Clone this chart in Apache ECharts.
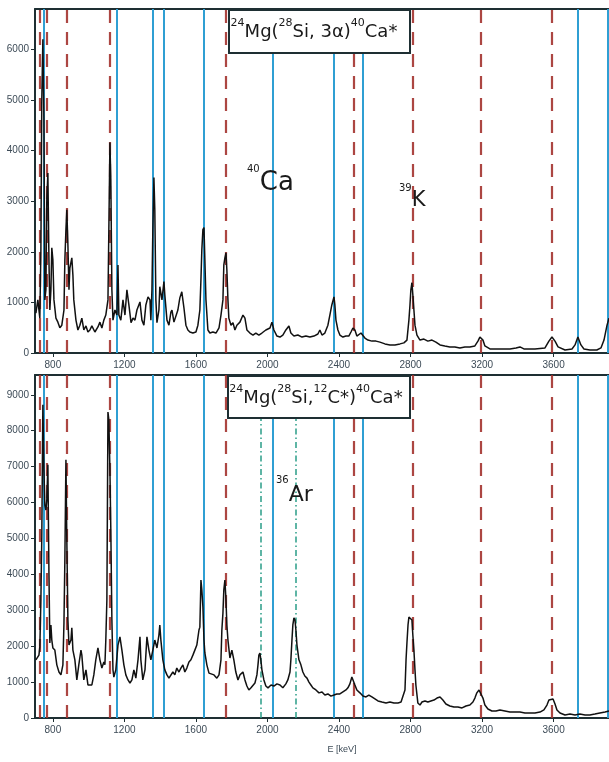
<!DOCTYPE html>
<html><head><meta charset="utf-8">
<script src="https://cdn.jsdelivr.net/npm/echarts@6/dist/echarts.min.js"></script>
<style>html,body{margin:0;padding:0;background:#fff;overflow:hidden}#c{width:609px;height:762px}</style>
</head><body><div id="c"></div>
<script>
// ---------- data ----------
const xTicks = [800, 1200, 1600, 2000, 2400, 2800, 3200, 3600];
const topYTicks = [0, 1000, 2000, 3000, 4000, 5000, 6000];
const botYTicks = [0, 1000, 2000, 3000, 4000, 5000, 6000, 7000, 8000, 9000];
const redLines = [727, 766, 878, 1119, 1768, 2483, 2813, 3194, 3591];
const blueLines = [748, 1158, 1359, 1421, 1645, 2030, 2372, 2534, 3737, 3904];
const greenLines = [1963, 2159];
const xAxisTitle = 'E [keV]';

const topSpectrum = [[705,790],[716,1050],[727,690],[733,2040],[738,5010],[744,6200],[750,4610],[755,1050],[761,1250],[766,3030],[772,3560],[778,1840],[783,850],[789,1250],[794,2080],[800,1840],[806,1050],[817,690],[828,610],[839,500],[850,550],[862,850],[867,1840],[873,2440],[878,2830],[884,2140],[890,1250],[895,1680],[906,1880],[912,1540],[917,1050],[929,650],[940,455],[951,550],[962,690],[973,455],[985,535],[996,415],[1007,455],[1018,535],[1035,415],[1052,515],[1063,610],[1074,495],[1085,650],[1096,750],[1108,1050],[1113,2440],[1119,4160],[1124,3430],[1130,1250],[1136,650],[1147,850],[1158,750],[1164,1740],[1169,750],[1180,650],[1192,1050],[1203,750],[1214,1250],[1225,950],[1237,600],[1248,690],[1259,650],[1270,850],[1287,1010],[1298,650],[1309,550],[1320,950],[1332,1110],[1343,1050],[1348,650],[1354,1250],[1359,2440],[1365,3470],[1370,2830],[1376,1050],[1382,600],[1393,850],[1398,1310],[1410,1050],[1421,1410],[1426,1150],[1438,650],[1449,550],[1460,810],[1466,850],[1477,610],[1488,575],[1499,850],[1510,1090],[1521,1210],[1533,890],[1544,550],[1555,455],[1566,415],[1583,395],[1600,415],[1611,550],[1622,850],[1628,1450],[1633,2040],[1639,2440],[1645,2480],[1650,1840],[1656,1050],[1667,455],[1678,395],[1695,415],[1712,395],[1729,495],[1740,750],[1751,1050],[1756,1740],[1762,1880],[1768,1980],[1773,1640],[1779,1050],[1784,690],[1796,550],[1807,600],[1818,455],[1829,550],[1846,610],[1863,750],[1874,690],[1885,455],[1902,395],[1919,355],[1935,395],[1952,355],[1969,395],[1991,455],[2014,495],[2025,610],[2036,455],[2053,335],[2070,315],[2086,355],[2103,455],[2120,535],[2131,395],[2148,335],[2170,355],[2193,315],[2215,335],[2237,315],[2260,335],[2282,375],[2293,455],[2305,355],[2321,395],[2338,550],[2349,750],[2360,950],[2372,1110],[2377,950],[2383,650],[2394,455],[2405,355],[2422,315],[2439,335],[2455,335],[2467,415],[2478,495],[2489,455],[2500,335],[2511,335],[2523,395],[2534,415],[2545,295],[2562,255],[2584,235],[2607,235],[2629,215],[2657,180],[2685,160],[2713,160],[2741,180],[2763,200],[2780,255],[2791,650],[2797,950],[2802,1250],[2808,1390],[2813,1150],[2819,850],[2825,550],[2836,355],[2853,255],[2875,275],[2897,235],[2920,255],[2942,215],[2965,160],[2992,140],[3020,120],[3048,120],[3076,100],[3104,120],[3132,120],[3160,140],[3177,235],[3188,315],[3194,335],[3205,255],[3216,140],[3244,80],[3300,80],[3356,80],[3390,100],[3412,120],[3434,80],[3496,80],[3552,100],[3574,235],[3591,315],[3608,235],[3625,120],[3664,60],[3703,80],[3720,160],[3736,315],[3753,160],[3770,80],[3803,60],[3842,60],[3865,100],[3882,255],[3899,550],[3910,690]];

const bottomSpectrum = [[705,1620],[716,1670],[722,1750],[727,1980],[733,3290],[738,5040],[744,8720],[750,6910],[755,5930],[761,5790],[766,6070],[772,7050],[778,4040],[783,2090],[789,2590],[794,2170],[800,1950],[811,1890],[822,1480],[834,1280],[845,1200],[856,1480],[862,2650],[867,4400],[873,7190],[878,4960],[884,2730],[890,2030],[895,2030],[901,2170],[906,2510],[912,1890],[923,1620],[934,1060],[945,1480],[957,1890],[962,1750],[973,1060],[985,1340],[996,920],[1007,920],[1018,920],[1029,1200],[1040,1620],[1052,1950],[1063,1620],[1074,1390],[1085,1560],[1091,1480],[1096,2170],[1102,3290],[1108,8520],[1113,8300],[1119,6910],[1124,5240],[1130,2730],[1136,1340],[1141,1140],[1152,1340],[1164,2030],[1175,2260],[1186,1890],[1197,1480],[1208,1200],[1220,1060],[1231,975],[1242,1060],[1253,1340],[1264,1110],[1276,1620],[1287,2260],[1292,1620],[1303,1060],[1315,1340],[1326,2260],[1337,1890],[1348,1620],[1359,1890],[1370,2170],[1382,1950],[1393,2310],[1398,2590],[1404,2170],[1415,1620],[1426,1340],[1438,1200],[1449,1110],[1460,1140],[1471,1280],[1482,1200],[1493,1390],[1505,1280],[1516,1390],[1527,1480],[1538,1280],[1549,1390],[1561,1560],[1572,1620],[1583,1750],[1594,1890],[1605,2030],[1617,2450],[1622,2530],[1628,3840],[1633,3570],[1639,3090],[1645,2170],[1650,1810],[1661,1480],[1673,1250],[1684,1280],[1701,1200],[1717,1110],[1729,1200],[1740,1620],[1745,2450],[1751,2920],[1756,3570],[1762,3840],[1768,3290],[1773,2590],[1779,2170],[1790,1670],[1801,1890],[1812,1620],[1823,1280],[1835,1060],[1846,1200],[1863,1280],[1874,1060],[1885,890],[1896,780],[1908,840],[1919,890],[1930,975],[1941,1200],[1947,1480],[1952,1750],[1958,1810],[1963,1620],[1969,1340],[1980,1060],[1991,890],[2003,840],[2020,920],[2036,890],[2053,950],[2070,920],[2086,840],[2103,950],[2114,1060],[2126,1280],[2131,1620],[2137,2170],[2142,2590],[2148,2790],[2154,2730],[2159,2450],[2165,2030],[2170,1840],[2176,1620],[2187,1480],[2198,1280],[2209,1170],[2221,1110],[2232,1000],[2243,920],[2254,840],[2271,780],[2288,700],[2305,725],[2321,640],[2338,670],[2355,610],[2372,640],[2388,670],[2405,670],[2422,725],[2439,780],[2450,840],[2461,950],[2472,1140],[2478,1110],[2489,920],[2500,780],[2517,700],[2534,610],[2551,585],[2567,640],[2584,585],[2601,530],[2618,475],[2640,445],[2663,420],[2685,445],[2707,420],[2730,420],[2747,445],[2758,500],[2769,780],[2775,1620],[2780,2090],[2786,2590],[2791,2810],[2797,2790],[2802,2810],[2808,2730],[2813,2310],[2819,1890],[2825,1340],[2830,920],[2841,420],[2853,360],[2864,445],[2881,475],[2897,445],[2914,475],[2931,500],[2948,555],[2965,585],[2981,500],[2998,390],[3020,335],[3043,305],[3065,305],[3088,280],[3110,335],[3132,360],[3149,445],[3160,555],[3171,700],[3183,780],[3194,725],[3205,555],[3216,360],[3233,250],[3255,195],[3278,195],[3300,225],[3328,195],[3356,165],[3384,165],[3412,165],[3440,140],[3468,140],[3496,140],[3524,165],[3546,225],[3563,360],[3574,500],[3585,555],[3597,530],[3608,390],[3619,225],[3636,140],[3664,85],[3692,110],[3720,85],[3747,110],[3776,85],[3803,85],[3831,110],[3859,140],[3888,165],[3910,195]];

// ---------- styling ----------
const X_MIN = 700, X_MAX = 3910;
const TOP_MAX = 6800, BOT_MAX = 9550;
const axisColor = '#1e2f33';
const labelColor = '#3d4b57';
const fontUI = 'Liberation Sans';
const fontNote = 'DejaVu Sans';

function xBottom(gi, withName) {
  const a = {
    type: 'value', gridIndex: gi, min: X_MIN, max: X_MAX, position: 'bottom',
    axisLine: {show: true, onZero: false, lineStyle: {color: axisColor, width: 2}},
    axisTick: {show: true, customValues: xTicks, length: 4, lineStyle: {color: axisColor, width: 1}},
    axisLabel: {show: true, customValues: xTicks, fontSize: 10, color: labelColor, margin: 7,
                fontFamily: fontUI, formatter: v => String(v)},
    splitLine: {show: false}
  };
  if (withName) {
    a.name = xAxisTitle;
    a.nameLocation = 'middle';
    a.nameGap = 27;
    a.nameTextStyle = {fontSize: 9, color: labelColor, fontFamily: fontUI, padding: [0, 0, 0, 40]};
  }
  return a;
}
function xTop(gi) {
  return {
    type: 'value', gridIndex: gi, min: X_MIN, max: X_MAX, position: 'top',
    axisLine: {show: true, onZero: false, lineStyle: {color: axisColor, width: 2}},
    axisTick: {show: false}, axisLabel: {show: false}, splitLine: {show: false}
  };
}
function yAx(gi, max, ticks) {
  return {
    type: 'value', gridIndex: gi, min: 0, max: max, position: 'left',
    axisLine: {show: true, onZero: false, lineStyle: {color: axisColor, width: 2}},
    axisTick: {show: true, customValues: ticks, length: 4, lineStyle: {color: axisColor, width: 1}},
    axisLabel: {show: true, customValues: ticks, fontSize: 10, color: labelColor, margin: 6,
                fontFamily: fontUI, formatter: v => String(v)},
    splitLine: {show: false}
  };
}
function markSeries(xi, yi, vals, lineStyle) {
  return {
    type: 'line', xAxisIndex: xi, yAxisIndex: yi, data: [], z: 2, silent: true,
    markLine: {
      silent: true, symbol: ['none', 'none'], animation: false,
      label: {show: false}, emphasis: {disabled: true},
      lineStyle: lineStyle,
      data: vals.map(v => ({xAxis: v}))
    }
  };
}
const redStyle = {color: '#a3322d', width: 2.2, type: [13, 9], opacity: 0.9};
const blueStyle = {color: '#2f9fd3', width: 2, type: 'solid'};
const greenStyle = {color: '#2a9d88', width: 1.5, type: [6, 3, 1.5, 3]};

function spec(xi, yi, data) {
  return {
    type: 'line', xAxisIndex: xi, yAxisIndex: yi, data: data, showSymbol: false,
    symbol: 'none', z: 5, silent: true,
    lineStyle: {color: '#111111', width: 1.5}
  };
}

// superscript: small token padded at the bottom so it sits above the main glyphs
function noteRich(big, supSize, raise) {
  return {
    n: {fontSize: big, fontFamily: fontNote, fill: '#1a1a1a', lineHeight: Math.round(big * 1.2)},
    s: {fontSize: supSize, fontFamily: fontNote, fill: '#1a1a1a', lineHeight: supSize + 1,
        padding: [0, 0, raise, 0]}
  };
}

const option = {
  animation: false,
  backgroundColor: '#ffffff',
  grid: [
    {left: 35, top: 9, width: 574, height: 344},
    {left: 35, top: 375, width: 574, height: 343}
  ],
  xAxis: [xBottom(0, false), xTop(0), xBottom(1, true), xTop(1)],
  yAxis: [yAx(0, TOP_MAX, topYTicks), yAx(1, BOT_MAX, botYTicks)],
  series: [
    markSeries(0, 0, blueLines, blueStyle),
    markSeries(0, 0, redLines, redStyle),
    spec(0, 0, topSpectrum),
    markSeries(2, 1, blueLines, blueStyle),
    markSeries(2, 1, redLines, redStyle),
    markSeries(2, 1, greenLines, greenStyle),
    spec(2, 1, bottomSpectrum)
  ],
  graphic: [
    {type: 'rect', z: 10, shape: {x: 229, y: 10, width: 181, height: 43},
     style: {fill: '#ffffff', stroke: axisColor, lineWidth: 2}},
    {type: 'text', z: 11, x: 314, y: 32,
     style: {text: '{s|24}{n|Mg(}{s|28}{n|Si, 3α)}{s|40}{n|Ca*}', rich: noteRich(18, 11, 18),
             align: 'center', verticalAlign: 'middle'}},
    {type: 'rect', z: 10, shape: {x: 228, y: 376, width: 182, height: 42},
     style: {fill: '#ffffff', stroke: axisColor, lineWidth: 2}},
    {type: 'text', z: 11, x: 316, y: 398,
     style: {text: '{s|24}{n|Mg(}{s|28}{n|Si,}{s|12}{n|C*)}{s|40}{n|Ca*}', rich: noteRich(18, 11, 18),
             align: 'center', verticalAlign: 'middle'}},
    {type: 'text', z: 11, x: 247, y: 183,
     style: {text: '{s|40}{n|Ca}', rich: noteRich(26, 10, 27), align: 'left', verticalAlign: 'middle'}},
    {type: 'text', z: 11, x: 399, y: 201,
     style: {text: '{s|39}{n|K}', rich: noteRich(21, 10, 26), align: 'left', verticalAlign: 'middle'}},
    {type: 'text', z: 11, x: 276, y: 495,
     style: {text: '{s|36}{n|Ar}', rich: noteRich(22, 10, 29), align: 'left', verticalAlign: 'middle'}}
  ]
};
const chart = echarts.init(document.getElementById('c'), null, {renderer: 'canvas'});
chart.setOption(option);
</script>
</body></html>
